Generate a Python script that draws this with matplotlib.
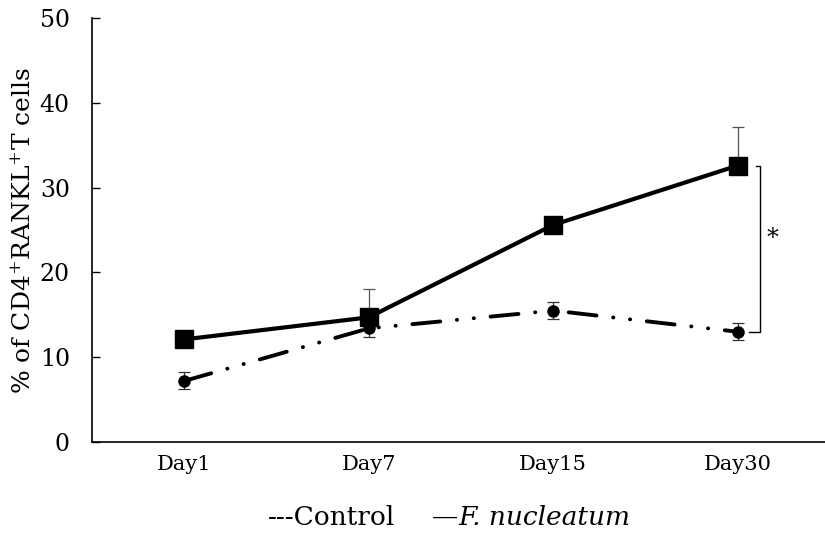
import numpy as np
import matplotlib.pyplot as plt

days = ['Day1', 'Day7', 'Day15', 'Day30']
fn_vals = [12.1, 14.7, 25.6, 32.6]
fn_err = [0.0, 3.3, 0.0, 4.5]
ctrl_vals = [7.2, 13.4, 15.5, 13.0]
ctrl_err = [1.0, 1.0, 1.0, 1.0]

plt.rcParams['font.family'] = ['DejaVu Serif']
plt.rcParams['mathtext.fontset'] = 'dejavuserif'

fig = plt.figure(figsize=(8.25, 5.36), dpi=100)
ax = fig.add_axes([92 / 825, 1 - 442 / 536, 738 / 825, 424 / 536])

x = np.arange(len(days))

# error bars first (thin, grey)
ax.errorbar(x, ctrl_vals, yerr=ctrl_err, fmt='none', ecolor='#333333',
            elinewidth=0.9, capsize=4, capthick=0.9, zorder=2)
ax.errorbar(x, fn_vals, yerr=[np.zeros(4), fn_err], fmt='none', ecolor='#555555',
            elinewidth=0.9, capsize=4, capthick=0.9, zorder=2)

# long dash - dot - dot
ax.plot(x, ctrl_vals, color='black', lw=2.8, marker='o', ms=8,
        dashes=(7.2, 4.3, 0.05, 4.3, 0.05, 4.3), dash_capstyle='round', zorder=3)
ax.plot(x, fn_vals, color='black', lw=3.0, marker='s', ms=12.5, zorder=4)

# significance bracket
ax.plot([3.1, 3.12, 3.12, 3.06], [fn_vals[3], fn_vals[3], ctrl_vals[3], ctrl_vals[3]],
        color='black', lw=1.0, zorder=1)
ax.text(3.19, 24.0, '*', fontsize=17, ha='center', va='center')

ax.set_xlim(-0.5, 3.5)
ax.set_ylim(0, 50)
ax.set_yticks([0, 10, 20, 30, 40, 50])
ax.set_xticks(x)
ax.set_xticklabels(days)
ax.tick_params(axis='y', direction='in', length=6, width=1, labelsize=17, pad=16)
ax.tick_params(axis='x', length=0, labelsize=15, pad=9)
for s in ['top', 'right']:
    ax.spines[s].set_visible(False)
ax.spines['left'].set_linewidth(1.2)
ax.spines['bottom'].set_linewidth(1.2)

ax.set_ylabel(r'% of CD4$^{+}$RANKL$^{+}$T cells', fontsize=18)
ax.yaxis.set_label_coords(-0.076, 0.5)

fig.text(0.325, 0.035, '---Control', fontsize=19, ha='left', va='center')
fig.text(0.523, 0.035, '\u2014', fontsize=19, ha='left', va='center')
fig.text(0.556, 0.035, 'F. nucleatum', fontsize=19, ha='left', va='center', style='italic')

fig.savefig('out.png', dpi=100)
